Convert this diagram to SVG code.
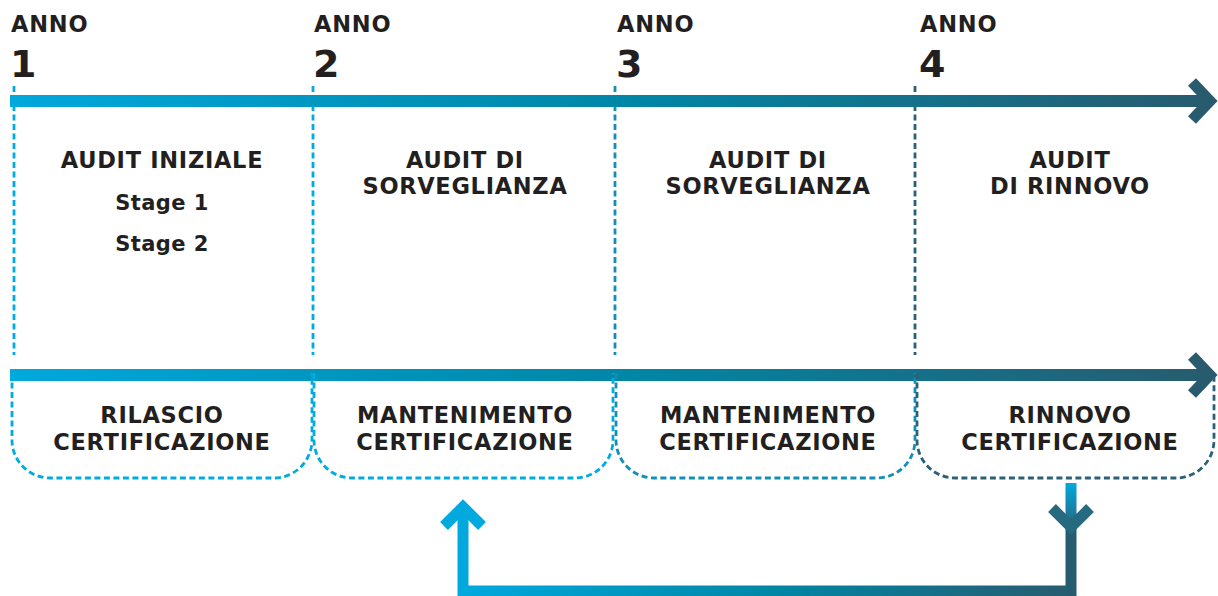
<svg xmlns="http://www.w3.org/2000/svg" width="1218" height="596" viewBox="0 0 1218 596">
<defs>
<linearGradient id="axis" gradientUnits="userSpaceOnUse" x1="10" y1="0" x2="1218" y2="0">
<stop offset="0" stop-color="#00a8dc"/>
<stop offset="0.5" stop-color="#0087a7"/>
<stop offset="1" stop-color="#285b6e"/>
</linearGradient>
<linearGradient id="loop" gradientUnits="userSpaceOnUse" x1="458" y1="0" x2="1077" y2="0">
<stop offset="0" stop-color="#00a9de"/>
<stop offset="0.5" stop-color="#0087a7"/>
<stop offset="1" stop-color="#285b6e"/>
</linearGradient>
<linearGradient id="down" gradientUnits="userSpaceOnUse" x1="0" y1="483" x2="0" y2="525">
<stop offset="0" stop-color="#00a9de"/>
<stop offset="1" stop-color="#266a80"/>
</linearGradient>
</defs>
<style>
.t{font-family:"DejaVu Sans","Liberation Sans",sans-serif;font-weight:bold;fill:#231f20;font-size:22.5px;text-anchor:middle;letter-spacing:0.7px}
.anno{font-family:"DejaVu Sans","Liberation Sans",sans-serif;font-weight:bold;fill:#231f20;font-size:22.5px;letter-spacing:0.8px}
.num{font-family:"DejaVu Sans","Liberation Sans",sans-serif;font-weight:bold;fill:#231f20;font-size:38px}
.st{font-size:21px;letter-spacing:0.4px}
.dash{fill:none;stroke-width:2.8;stroke-dasharray:6 3.5}
.c1{stroke:#00abe0}
.c3{stroke:#138fb6}
.c4{stroke:#2b6176}
.arr{fill:none;stroke-width:11;stroke-linejoin:miter;stroke-miterlimit:10}
</style>

<g id="connectors">
<line class="dash c1" x1="14" y1="86" x2="14" y2="355"/>
<line class="dash c1" x1="313" y1="86" x2="313" y2="355"/>
<line class="dash c3" x1="615" y1="86" x2="615" y2="355"/>
<line class="dash c4" x1="915" y1="86" x2="915" y2="355"/>
<rect x="10" y="95" width="1202" height="12" fill="url(#axis)"/>
<path class="arr" d="M1192,82 L1210,101 L1192,120" stroke="#285b6e"/>
<rect x="10" y="369" width="1202" height="12" fill="url(#axis)"/>
<path class="arr" d="M1192,356 L1210,375 L1192,394" stroke="#285b6e"/>
<path class="arr" d="M1071,483 V522" stroke="url(#down)"/>
<path class="arr" d="M463,508 V591 H1071 V518" stroke="url(#loop)"/>
<path class="arr" d="M444,526 L463,507 L482,526" stroke="#00a9de"/>
<path class="arr" d="M1052,508 L1071,527 L1090,508" stroke="#266a80"/>
</g>

<g id="year1">
<text class="anno" x="11" y="32">ANNO</text>
<text class="num" x="10" y="77">1</text>
<text class="t" x="162" y="168">AUDIT INIZIALE</text>
<text class="t st" x="162" y="210">Stage 1</text>
<text class="t st" x="162" y="251">Stage 2</text>
</g>
<g id="year2">
<text class="anno" x="314" y="32">ANNO</text>
<text class="num" x="313" y="77">2</text>
<text class="t" x="465" y="168">AUDIT DI</text>
<text class="t" x="465" y="194">SORVEGLIANZA</text>
</g>
<g id="year3">
<text class="anno" x="617" y="32">ANNO</text>
<text class="num" x="616" y="77">3</text>
<text class="t" x="768" y="168">AUDIT DI</text>
<text class="t" x="768" y="194">SORVEGLIANZA</text>
</g>
<g id="year4">
<text class="anno" x="920" y="32">ANNO</text>
<text class="num" x="919" y="77">4</text>
<text class="t" x="1070" y="168">AUDIT</text>
<text class="t" x="1070" y="194">DI RINNOVO</text>
</g>

<g id="box1">
<path class="dash c1" d="M12,373 V440 A38,38 0 0 0 50,478 H274 A38,38 0 0 0 312,440 V373"/>
<text class="t" x="162" y="423">RILASCIO</text>
<text class="t" x="162" y="450">CERTIFICAZIONE</text>
</g>
<g id="box2">
<path class="dash c1" d="M314,373 V440 A38,38 0 0 0 352,478 H575 A38,38 0 0 0 613,440 V373"/>
<text class="t" x="465" y="423">MANTENIMENTO</text>
<text class="t" x="465" y="450">CERTIFICAZIONE</text>
</g>
<g id="box3">
<path class="dash c3" d="M616,373 V440 A38,38 0 0 0 654,478 H877 A38,38 0 0 0 915,440 V373"/>
<text class="t" x="768" y="423">MANTENIMENTO</text>
<text class="t" x="768" y="450">CERTIFICAZIONE</text>
</g>
<g id="box4">
<path class="dash c4" d="M917,373 V440 A38,38 0 0 0 955,478 H1176 A38,38 0 0 0 1214,440 V376"/>
<text class="t" x="1070" y="423">RINNOVO</text>
<text class="t" x="1070" y="450">CERTIFICAZIONE</text>
</g>
</svg>
